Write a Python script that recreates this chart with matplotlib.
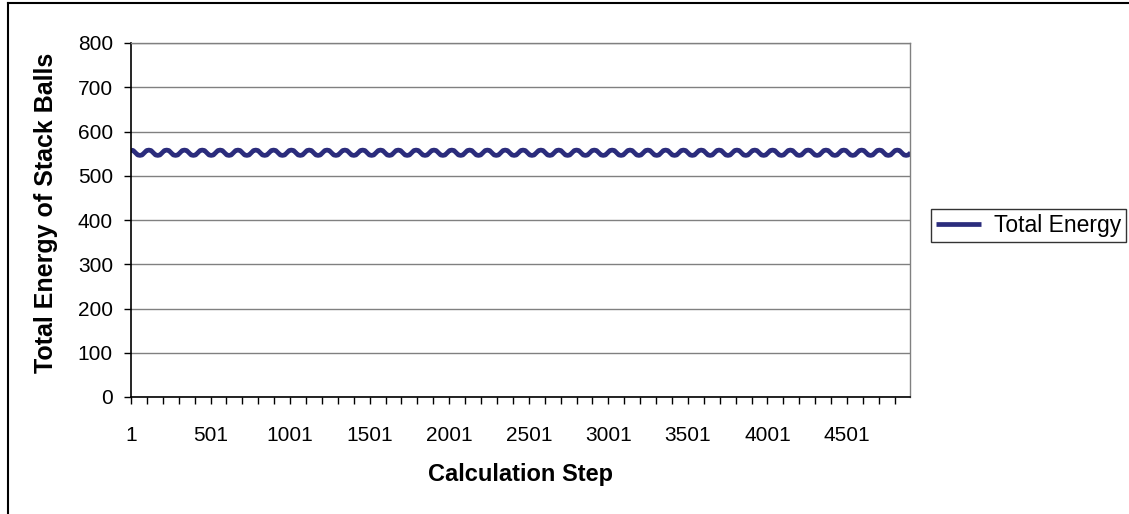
import matplotlib.pyplot as plt
import numpy as np
from matplotlib.lines import Line2D
from matplotlib.ticker import FixedLocator

plt.rcParams['font.family'] = ['Liberation Sans', 'DejaVu Sans']

# calculation steps sampled every 14 steps (an eighth of one oscillation)
steps = np.arange(1, 4902, 14)
total_energy = [
    558, 557, 552, 547, 546, 547, 552, 557, 558, 557, 552, 547, 546, 547, 552, 557,
    558, 557, 552, 547, 546, 547, 552, 557, 558, 557, 552, 547, 546, 547, 552, 557,
    558, 557, 552, 547, 546, 547, 552, 557, 558, 557, 552, 547, 546, 547, 552, 557,
    558, 557, 552, 547, 546, 547, 552, 557, 558, 557, 552, 547, 546, 547, 552, 557,
    558, 557, 552, 547, 546, 547, 552, 557, 558, 557, 552, 547, 546, 547, 552, 557,
    558, 557, 552, 547, 546, 547, 552, 557, 558, 557, 552, 547, 546, 547, 552, 557,
    558, 557, 552, 547, 546, 547, 552, 557, 558, 557, 552, 547, 546, 547, 552, 557,
    558, 557, 552, 547, 546, 547, 552, 557, 558, 557, 552, 547, 546, 547, 552, 557,
    558, 557, 552, 547, 546, 547, 552, 557, 558, 557, 552, 547, 546, 547, 552, 557,
    558, 557, 552, 547, 546, 547, 552, 557, 558, 557, 552, 547, 546, 547, 552, 557,
    558, 557, 552, 547, 546, 547, 552, 557, 558, 557, 552, 547, 546, 547, 552, 557,
    558, 557, 552, 547, 546, 547, 552, 557, 558, 557, 552, 547, 546, 547, 552, 557,
    558, 557, 552, 547, 546, 547, 552, 557, 558, 557, 552, 547, 546, 547, 552, 557,
    558, 557, 552, 547, 546, 547, 552, 557, 558, 557, 552, 547, 546, 547, 552, 557,
    558, 557, 552, 547, 546, 547, 552, 557, 558, 557, 552, 547, 546, 547, 552, 557,
    558, 557, 552, 547, 546, 547, 552, 557, 558, 557, 552, 547, 546, 547, 552, 557,
    558, 557, 552, 547, 546, 547, 552, 557, 558, 557, 552, 547, 546, 547, 552, 557,
    558, 557, 552, 547, 546, 547, 552, 557, 558, 557, 552, 547, 546, 547, 552, 557,
    558, 557, 552, 547, 546, 547, 552, 557, 558, 557, 552, 547, 546, 547, 552, 557,
    558, 557, 552, 547, 546, 547, 552, 557, 558, 557, 552, 547, 546, 547, 552, 557,
    558, 557, 552, 547, 546, 547, 552, 557, 558, 557, 552, 547, 546, 547, 552, 557,
    558, 557, 552, 547, 546, 547, 552, 557, 558, 557, 552, 547, 546, 547, 552,
]
x_labels = [1, 501, 1001, 1501, 2001, 2501, 3001, 3501, 4001, 4501]
y_ticks = [0, 100, 200, 300, 400, 500, 600, 700, 800]

line_color = '#2B2C7C'
grid_color = '#808080'

fig = plt.figure(figsize=(11.29, 5.14), dpi=100)
ax = fig.add_axes([131 / 1129, 1 - 397 / 514, (910 - 131) / 1129, (397 - 43) / 514])

ax.plot(steps, total_energy, color=line_color, lw=3.4,
        solid_joinstyle='round', solid_capstyle='butt', label='Total Energy')

ax.set_xlim(1, 4897)
ax.set_ylim(0, 800)

ax.set_yticks(y_ticks)
ax.xaxis.set_major_locator(FixedLocator(x_labels))
ax.set_xticklabels([str(v) for v in x_labels])
ax.xaxis.set_minor_locator(FixedLocator(np.arange(1, 4897, 100)))

ax.tick_params(axis='both', which='both', direction='out', length=5, width=1,
               color='black', labelsize=15)
ax.tick_params(axis='x', pad=16)
ax.tick_params(axis='y', pad=8)

ax.yaxis.grid(True, color=grid_color, lw=1)
ax.set_axisbelow(True)

for side in ['top', 'right']:
    ax.spines[side].set_color(grid_color)
    ax.spines[side].set_linewidth(1)
for side in ['left', 'bottom']:
    ax.spines[side].set_color('black')
    ax.spines[side].set_linewidth(1.2)

ax.set_ylabel('Total Energy of Stack Balls', fontsize=18, fontweight='bold')
ax.set_xlabel('Calculation Step', fontsize=17, fontweight='bold')
ax.yaxis.set_label_coords(-0.094, 0.52)
ax.xaxis.set_label_coords(0.5, -0.186)

leg = fig.legend(loc='center left', bbox_to_anchor=(931 / 1129, 1 - 225.5 / 514),
                 fontsize=16.5, frameon=True, fancybox=False, handlelength=2.0,
                 borderpad=0.2, handletextpad=0.55, borderaxespad=0)
leg.get_frame().set_edgecolor('black')
leg.get_frame().set_linewidth(1)

# outer chart border (left and top edges)
fig.add_artist(Line2D([8 / 1129, 8 / 1129], [0, 1 - 3 / 514], color='black', lw=1.5))
fig.add_artist(Line2D([8 / 1129, 1], [1 - 3 / 514, 1 - 3 / 514], color='black', lw=1.5))

fig.savefig('out.png', dpi=100)
